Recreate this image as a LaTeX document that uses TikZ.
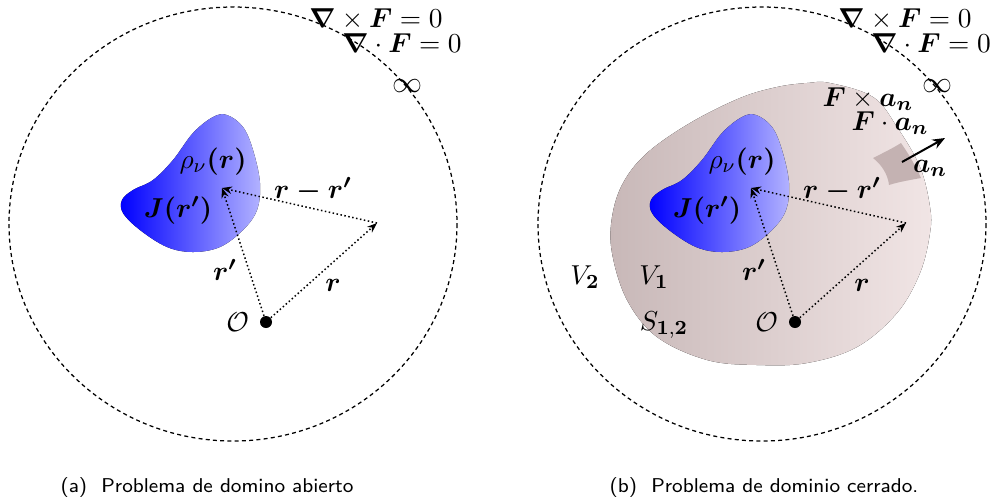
\documentclass[tikz,border=0pt]{standalone}
\usepackage{amsmath, amssymb}
\usetikzlibrary{arrows.meta, positioning}

\definecolor{vleft}{RGB}{200,184,184}
\definecolor{vright}{RGB}{241,229,229}
\definecolor{patchbrown}{RGB}{196,178,178}

\begin{document}
\begin{tikzpicture}[x=0.4pt, y=-0.4pt]

    % Define styles
    \tikzstyle{infinity} = [dash pattern=on 1.6pt off 1.3pt, line width=0.5pt]
    \tikzstyle{source} = [left color=blue, right color=blue!30, draw=none]
    \tikzstyle{region} = [left color=vleft, right color=vright, draw=none]
    \tikzstyle{vecarrow} = [densely dotted, line width=0.6pt, -{Stealth[length=4pt, width=3pt]}]
    \tikzstyle{origin} = [circle, fill=black, inner sep=0pt, minimum size=4.8pt]
    \tikzstyle{lbl} = [font=\fontsize{11}{13}\selectfont, inner sep=1pt]
    \tikzstyle{biglbl} = [font=\large, inner sep=1pt]
    \tikzstyle{caption} = [font=\sffamily\footnotesize]

    \useasboundingbox (0,0) rectangle (991,503);

    % ---------- (a) open domain ----------
    \draw[infinity] (233,224) ellipse [x radius=224, y radius=217];

    % Source
    \fill[source] plot[smooth cycle, tension=0.6] coordinates {
        (122,200) (133,190) (153,180) (173,160) (193,133) (213,117) (227,115)
        (243,127) (253,150) (260,183) (257,210) (243,230) (220,247) (193,252)
        (167,247) (140,230) (123,213)};

    % Define key points
    \node[origin] (Oa) at (266,322) {};
    \coordinate (rpa) at (222,188);
    \coordinate (rra) at (377,223);

    % Vectors
    \draw[vecarrow] (Oa) -- (rpa);
    \draw[vecarrow] (Oa) -- (rra);
    \draw[vecarrow] (rra) -- (rpa);

    % Labels
    \node[lbl, left=3pt of Oa] (Olabela) {$\mathcal{O}$};
    \node[lbl] (rhoa) at (213,162) {$\rho_{\nu}\boldsymbol{(r)}$};
    \node[lbl] (Ja) at (178,210) {$\boldsymbol{J(r')}$};
    \node[lbl] (rdiffa) at (313,190) {$\boldsymbol{r-r'}$};
    \node[lbl] (rprimea) at (225,270) {$\boldsymbol{r'}$};
    \node[lbl] (rveca) at (333,285) {$\boldsymbol{r}$};
    \node[lbl] (curla) at (376,19) {$\boldsymbol{\nabla}\times\boldsymbol{F}=0$};
    \node[lbl] (diva) at (402,43) {$\boldsymbol{\nabla}\cdot\boldsymbol{F}=0$};
    \node[biglbl] (infa) at (407,86) {$\infty$};
    \node[caption] (capa) at (207,487) {(a)\ \ Problema de domino abierto};

    % ---------- (b) closed domain ----------
    \draw[infinity] (762,224) ellipse [x radius=224, y radius=217];

    % Region V1
    \fill[region] plot[smooth cycle, tension=0.6] coordinates {
        (690,123) (740,98) (777,87) (807,83) (830,83) (873,97) (897,127)
        (920,167) (930,207) (930,233) (920,273) (897,313) (857,347) (807,363)
        (757,365) (707,360) (657,337) (627,300) (612,253) (612,217) (623,183)
        (647,153)};

    % Surface element
    \fill[patchbrown] (873,158) .. controls (885,152) and (893,148) .. (901,143)
        .. controls (910,156) and (916,167) .. (921,178)
        .. controls (910,180) and (898,182) .. (889,185)
        .. controls (888,175) and (882,165) .. (873,158) -- cycle;

    % Source
    \begin{scope}[shift={(529,0)}]
        \fill[source] plot[smooth cycle, tension=0.6] coordinates {
            (122,200) (133,190) (153,180) (173,160) (193,133) (213,117) (227,115)
            (243,127) (253,150) (260,183) (257,210) (243,230) (220,247) (193,252)
            (167,247) (140,230) (123,213)};
    \end{scope}

    % Define key points
    \node[origin] (Ob) at (795,322) {};
    \coordinate (rpb) at (751,188);
    \coordinate (rrb) at (906,223);
    \coordinate (anbase) at (902,162);
    \coordinate (antip) at (945,138);

    % Vectors
    \draw[vecarrow] (Ob) -- (rpb);
    \draw[vecarrow] (Ob) -- (rrb);
    \draw[vecarrow] (rrb) -- (rpb);
    \draw[line width=0.8pt, -{Stealth[length=5pt, width=4pt]}] (anbase) -- (antip);

    % Labels
    \node[lbl, left=3pt of Ob] (Olabelb) {$\mathcal{O}$};
    \node[lbl] (rhob) at (742,162) {$\rho_{\nu}\boldsymbol{(r)}$};
    \node[lbl] (Jb) at (707,210) {$\boldsymbol{J(r')}$};
    \node[lbl] (rdiffb) at (842,190) {$\boldsymbol{r-r'}$};
    \node[lbl] (rprimeb) at (754,270) {$\boldsymbol{r'}$};
    \node[lbl] (rvecb) at (862,285) {$\boldsymbol{r}$};
    \node[lbl] (curlb) at (905,19) {$\boldsymbol{\nabla}\times\boldsymbol{F}=0$};
    \node[lbl] (divb) at (931,43) {$\boldsymbol{\nabla}\cdot\boldsymbol{F}=0$};
    \node[biglbl] (infb) at (937,86) {$\infty$};
    \node[lbl] (crossb) at (868,99) {$\boldsymbol{F}\times\boldsymbol{a_n}$};
    \node[lbl] (dotb) at (890,123) {$\boldsymbol{F}\cdot\boldsymbol{a_n}$};
    \node[lbl] (anb) at (930,168) {$\boldsymbol{a_n}$};
    \node[lbl] (V2) at (585,277) {$V_{\mathbf{2}}$};
    \node[lbl] (V1) at (654,277) {$V_{\mathbf{1}}$};
    \node[lbl] (S12) at (664,325) {$S_{\mathbf{1,2}}$};
    \node[caption] (capb) at (764,487) {(b)\ \ Problema de dominio cerrado.};

\end{tikzpicture}
\end{document}
